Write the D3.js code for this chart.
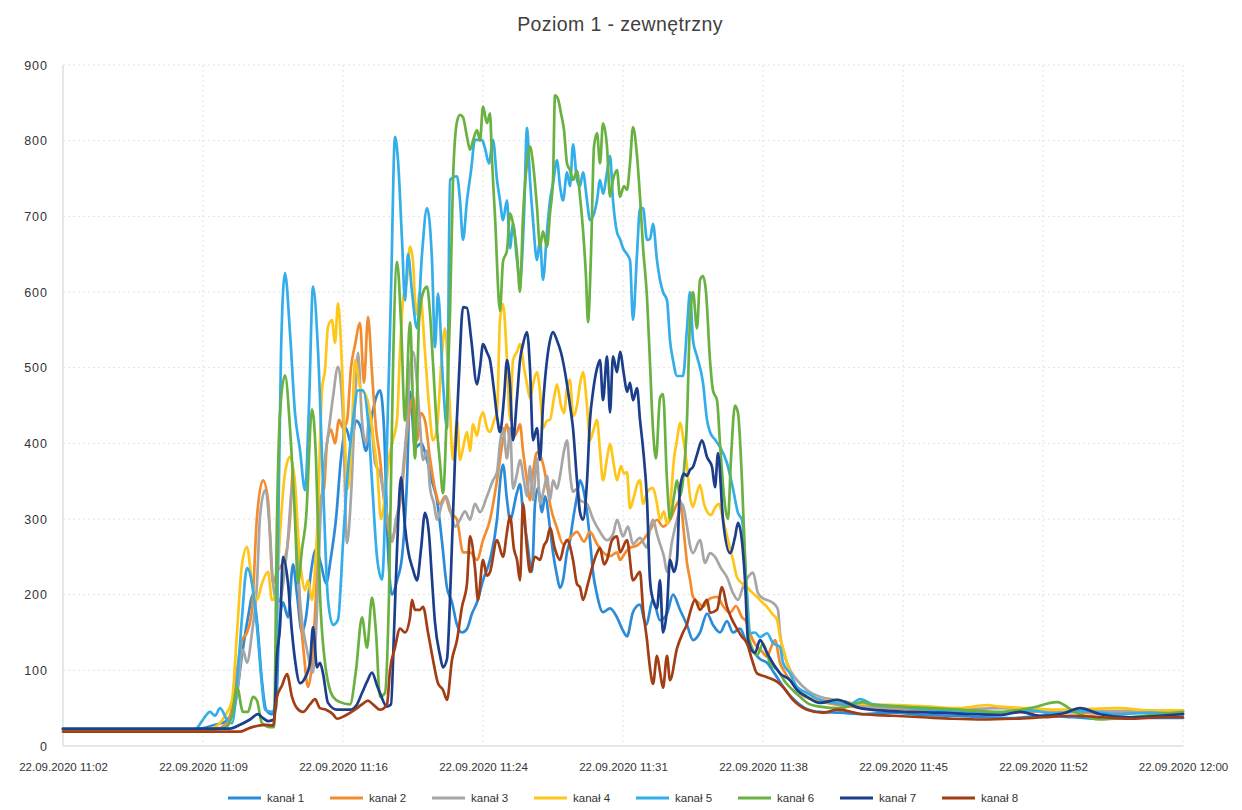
<!DOCTYPE html>
<html>
<head>
<meta charset="utf-8">
<script src="https://cdn.jsdelivr.net/npm/d3@7"></script>
<style>
  html, body { margin: 0; padding: 0; background: #ffffff; }
  svg { display: block; }
  text { font-family: "Liberation Sans", Arial, sans-serif; }
</style>
</head>
<body>
<svg id="chart" width="1242" height="810"></svg>
<script>
// ---------------- DATA ----------------
// x = sample number (logger samples, 140 samples between time labels), y = reading
const title = "Poziom 1 - zewnętrzny";
const tickLabels = ["22.09.2020 11:02","22.09.2020 11:09","22.09.2020 11:16","22.09.2020 11:24",
  "22.09.2020 11:31","22.09.2020 11:38","22.09.2020 11:45","22.09.2020 11:52","22.09.2020 12:00"];
const yTicks = [0,100,200,300,400,500,600,700,800,900];
const seriesNames = ["kanał 1","kanał 2","kanał 3","kanał 4","kanał 5","kanał 6","kanał 7","kanał 8"];

const kanal1 = [[0,22],[132,22],[142,24],[152,28],[162,32],[172,55],[179,120],[185,170],[190,200],[194,165],[199,85],[203,48],[209,42],[213,50],[216,150],[220,190],[225,170],[230,240],[234,200],[239,150],[243,170],[248,230],[253,260],[258,240],[263,215],[268,250],[273,300],[278,380],[283,420],[288,400],[293,430],[298,420],[303,390],[308,430],[313,460],[317,470],[321,420],[325,260],[329,200],[334,219],[339,250],[344,351],[347,468],[352,394],[358,400],[364,378],[369,350],[374,325],[379,270],[384,209],[389,190],[394,160],[399,150],[404,155],[409,175],[414,190],[420,219],[427,246],[434,299],[438,360],[440,372],[444,325],[447,299],[454,335],[457,346],[460,309],[464,272],[469,230],[472,320],[475,341],[479,309],[482,330],[487,288],[490,256],[494,225],[497,209],[500,219],[504,256],[507,272],[510,299],[514,330],[517,351],[520,341],[524,309],[527,272],[530,230],[534,200],[540,177],[547,182],[554,170],[559,155],[564,145],[570,177],[577,187],[583,160],[590,193],[597,166],[604,175],[610,200],[617,180],[624,160],[630,140],[637,150],[644,175],[650,160],[657,150],[664,165],[670,150],[677,155],[684,135],[690,125],[697,115],[704,110],[712,95],[722,75],[732,60],[742,50],[757,45],[777,44],[800,42],[830,44],[860,41],[890,40],[920,38],[950,37],[980,40],[1010,38],[1040,36],[1070,38],[1100,37],[1120,37]];

const kanal2 = [[0,22],[152,22],[162,28],[169,50],[174,100],[179,140],[184,150],[189,180],[194,303],[200,351],[205,325],[210,215],[214,230],[219,240],[224,260],[227,300],[230,365],[234,259],[237,180],[241,120],[245,78],[249,110],[253,200],[257,325],[261,340],[264,400],[268,418],[272,400],[276,431],[280,420],[284,430],[288,500],[292,530],[297,559],[301,480],[305,567],[309,493],[313,420],[317,380],[321,325],[325,290],[328,272],[334,299],[339,340],[343,400],[347,447],[350,462],[354,404],[358,440],[362,430],[367,380],[372,340],[377,320],[382,330],[387,310],[394,299],[400,256],[407,256],[414,246],[420,272],[427,299],[434,351],[440,404],[444,425],[447,404],[454,415],[457,425],[460,390],[464,351],[467,325],[470,360],[474,388],[480,373],[484,345],[487,320],[494,288],[500,267],[507,275],[514,283],[521,270],[527,283],[534,267],[540,256],[547,251],[554,256],[557,246],[562,255],[567,262],[574,265],[580,272],[587,285],[594,299],[600,290],[607,299],[614,320],[617,325],[621,280],[624,242],[627,220],[630,197],[635,190],[640,184],[647,195],[654,197],[660,185],[667,176],[673,185],[679,170],[683,165],[687,149],[694,131],[699,125],[704,118],[708,130],[712,140],[717,110],[722,97],[727,87],[732,78],[737,70],[750,61],[764,57],[787,52],[817,50],[857,48],[897,45],[937,44],[987,46],[1037,43],[1087,45],[1120,43]];

const kanal3 = [[0,22],[152,22],[162,26],[169,40],[174,70],[180,127],[184,110],[189,150],[194,215],[197,303],[202,338],[207,281],[210,215],[214,190],[217,193],[224,259],[230,348],[234,260],[237,193],[244,127],[250,97],[254,180],[257,289],[262,380],[266,420],[270,461],[275,501],[280,435],[284,268],[288,330],[292,450],[295,520],[299,430],[303,400],[307,440],[312,374],[317,360],[321,330],[325,300],[329,270],[333,300],[337,325],[341,380],[344,425],[347,499],[350,521],[354,480],[357,425],[360,378],[364,390],[367,341],[371,320],[374,299],[379,320],[383,330],[387,314],[392,290],[397,299],[402,310],[407,299],[412,320],[417,309],[424,330],[430,351],[434,362],[437,400],[440,420],[444,380],[447,420],[450,340],[454,360],[457,378],[461,350],[464,330],[467,370],[470,325],[474,380],[477,320],[481,340],[484,357],[487,325],[490,351],[494,340],[497,357],[501,390],[504,404],[507,360],[510,336],[514,340],[517,325],[524,320],[530,300],[537,283],[544,272],[550,280],[554,299],[560,277],[565,290],[570,267],[577,275],[584,262],[587,288],[590,299],[594,280],[597,267],[601,250],[604,230],[609,270],[614,299],[619,320],[624,290],[627,265],[630,255],[637,272],[642,242],[647,255],[652,250],[658,235],[664,223],[670,202],[675,193],[680,210],[685,223],[690,229],[695,202],[700,195],[704,193],[709,190],[713,185],[715,180],[717,149],[724,110],[734,87],[744,74],[757,65],[777,60],[807,52],[837,50],[887,48],[937,50],[987,47],[1037,46],[1087,47],[1120,46]];

const kanal4 = [[0,22],[142,22],[152,25],[162,40],[169,60],[174,150],[179,240],[184,263],[189,215],[194,193],[199,215],[205,230],[209,193],[213,200],[217,280],[221,350],[224,374],[227,382],[232,348],[235,281],[239,223],[242,206],[245,219],[249,193],[252,233],[255,312],[259,471],[262,497],[265,554],[269,563],[272,533],[275,585],[279,501],[282,400],[285,340],[289,420],[292,510],[295,490],[298,470],[302,466],[307,440],[311,400],[314,369],[318,300],[322,330],[326,380],[330,404],[334,431],[337,520],[340,589],[344,616],[347,660],[350,640],[353,570],[357,600],[362,520],[366,450],[370,404],[374,420],[378,500],[382,552],[386,470],[390,378],[394,431],[397,378],[401,400],[404,415],[407,390],[410,425],[414,410],[417,431],[420,441],[424,420],[427,415],[431,430],[434,441],[437,563],[440,584],[444,510],[447,431],[450,510],[454,521],[457,531],[461,500],[464,478],[467,460],[470,478],[474,494],[477,468],[480,420],[484,430],[487,431],[491,460],[494,478],[498,450],[501,440],[504,473],[507,484],[510,436],[514,450],[517,478],[520,494],[524,450],[527,404],[531,420],[534,431],[537,390],[540,351],[544,380],[547,399],[551,370],[554,351],[558,370],[561,360],[564,362],[567,314],[571,330],[574,345],[577,351],[580,320],[584,335],[587,340],[590,341],[594,320],[597,299],[601,310],[604,293],[608,330],[611,380],[614,404],[617,427],[621,400],[624,370],[627,330],[630,316],[634,335],[637,345],[641,320],[644,310],[648,305],[652,315],[656,320],[660,299],[665,272],[670,246],[674,223],[679,215],[684,210],[689,203],[694,197],[699,190],[704,184],[709,175],[714,167],[717,144],[721,125],[724,110],[727,97],[730,87],[734,78],[739,70],[747,63],[757,61],[777,58],[807,55],[837,54],[867,52],[897,50],[924,54],[937,52],[967,50],[997,48],[1027,49],[1057,50],[1087,47],[1120,47]];

const kanal5 = [[0,22],[132,22],[140,35],[147,45],[152,40],[157,50],[164,35],[169,30],[175,100],[179,170],[184,235],[189,215],[194,157],[199,80],[202,48],[209,45],[213,60],[215,260],[218,520],[222,625],[227,546],[232,440],[237,391],[242,338],[246,450],[250,607],[255,523],[260,348],[265,193],[270,160],[275,167],[280,268],[284,350],[290,430],[295,470],[300,470],[305,430],[309,350],[314,250],[319,220],[324,400],[328,600],[332,805],[335,774],[339,669],[342,589],[345,650],[349,600],[354,552],[359,650],[364,711],[369,642],[372,527],[375,598],[380,480],[384,420],[387,748],[394,753],[397,721],[400,669],[404,721],[408,760],[412,801],[419,801],[422,790],[426,770],[430,801],[434,748],[437,721],[440,695],[444,721],[447,658],[450,690],[454,642],[457,616],[461,700],[464,817],[467,748],[470,695],[474,642],[477,669],[480,616],[484,680],[487,721],[490,743],[494,774],[497,740],[500,721],[504,758],[507,740],[510,795],[514,748],[517,740],[520,758],[524,721],[527,695],[530,700],[534,721],[537,748],[540,730],[544,758],[547,780],[550,721],[554,679],[557,670],[560,658],[564,650],[567,642],[570,563],[574,650],[577,711],[580,711],[584,669],[587,670],[590,690],[594,642],[597,616],[600,600],[604,589],[607,536],[610,510],[614,489],[620,489],[624,552],[627,600],[630,536],[634,515],[640,480],[644,431],[647,415],[652,405],[657,395],[664,374],[670,340],[675,308],[679,299],[684,202],[687,149],[692,150],[697,144],[704,149],[710,136],[717,131],[720,110],[727,96],[734,78],[744,70],[757,61],[770,57],[787,55],[797,62],[810,55],[837,52],[867,48],[897,45],[937,44],[967,47],[990,43],[1017,46],[1057,42],[1087,44],[1120,42]];

const kanal6 = [[0,22],[137,22],[162,24],[169,40],[174,78],[180,45],[185,45],[190,65],[194,60],[199,30],[207,25],[211,25],[214,300],[217,440],[222,490],[227,420],[232,300],[235,215],[239,260],[243,300],[249,445],[253,380],[257,200],[262,110],[270,65],[277,58],[287,55],[293,100],[299,170],[304,130],[309,196],[313,150],[317,65],[322,70],[326,200],[330,500],[334,640],[338,560],[342,430],[347,560],[352,380],[356,560],[360,599],[364,607],[367,572],[370,506],[374,418],[377,374],[380,334],[384,450],[387,572],[390,748],[394,825],[397,834],[400,831],[404,805],[407,788],[410,800],[414,814],[417,800],[420,845],[424,823],[427,836],[429,774],[432,700],[437,575],[440,640],[444,655],[447,704],[450,691],[454,650],[457,600],[460,700],[464,770],[467,792],[470,770],[474,712],[477,660],[480,680],[484,660],[487,704],[490,748],[492,860],[495,855],[498,836],[501,814],[504,770],[507,761],[510,748],[514,760],[517,726],[520,682],[523,620],[525,560],[528,650],[531,792],[534,810],[537,770],[540,823],[544,792],[547,726],[550,748],[554,761],[557,726],[561,740],[564,735],[567,770],[570,818],[574,780],[577,726],[580,660],[584,593],[587,506],[590,418],[593,380],[597,460],[600,465],[604,351],[607,300],[611,330],[614,351],[617,330],[620,351],[624,431],[627,563],[630,600],[634,552],[637,616],[640,621],[643,600],[647,510],[650,470],[654,457],[657,400],[661,330],[665,300],[668,380],[672,450],[675,440],[679,350],[682,250],[685,150],[689,130],[694,120],[700,135],[707,110],[715,100],[722,85],[729,75],[737,65],[747,55],[757,52],[777,50],[800,58],[807,55],[837,52],[867,50],[897,48],[937,45],[967,50],[994,58],[1012,45],[1037,35],[1067,38],[1097,42],[1120,45]];

const kanal7 = [[0,23],[167,23],[177,28],[187,35],[195,42],[199,38],[205,33],[211,35],[214,120],[217,157],[220,250],[225,215],[229,150],[232,114],[237,83],[242,90],[247,110],[250,157],[254,104],[257,110],[260,96],[265,57],[274,48],[287,48],[294,55],[299,70],[304,85],[309,97],[314,80],[317,70],[324,52],[328,55],[331,150],[334,259],[338,355],[342,290],[345,259],[350,233],[354,219],[358,260],[362,308],[366,280],[369,220],[372,163],[377,120],[380,104],[384,115],[388,230],[392,380],[396,490],[400,580],[404,579],[408,540],[414,478],[417,500],[420,531],[424,520],[427,510],[431,470],[434,436],[437,415],[441,460],[444,510],[447,478],[450,404],[454,460],[457,510],[460,531],[464,547],[467,499],[470,404],[474,420],[477,378],[480,450],[484,510],[487,536],[490,547],[494,536],[498,520],[504,478],[507,450],[510,420],[514,351],[517,309],[520,299],[524,350],[527,431],[530,468],[534,499],[537,510],[540,457],[544,515],[547,441],[550,515],[554,494],[557,521],[561,490],[564,468],[567,480],[570,457],[574,473],[577,431],[580,394],[584,325],[587,219],[590,193],[594,182],[597,219],[600,150],[604,182],[607,246],[611,230],[614,246],[617,341],[621,360],[624,357],[627,365],[630,369],[634,385],[639,404],[644,382],[649,369],[652,342],[655,387],[660,299],[667,255],[672,276],[675,295],[679,270],[682,219],[685,140],[692,123],[697,140],[704,123],[712,105],[717,96],[727,87],[734,74],[744,65],[757,57],[774,61],[797,50],[817,47],[847,45],[877,44],[907,42],[937,41],[957,45],[977,40],[1000,43],[1017,50],[1037,42],[1067,38],[1097,40],[1120,42]];

const kanal8 = [[0,19],[177,19],[187,24],[202,28],[210,27],[214,65],[219,80],[224,95],[229,65],[234,50],[240,45],[247,55],[252,62],[257,50],[263,48],[270,42],[274,36],[282,40],[292,48],[299,55],[305,60],[310,55],[317,48],[324,55],[327,100],[332,130],[337,155],[342,150],[347,170],[349,193],[352,180],[357,180],[360,184],[365,150],[370,114],[375,83],[380,74],[384,61],[389,114],[394,140],[399,184],[404,215],[407,277],[412,235],[415,193],[420,246],[424,225],[427,230],[434,272],[440,250],[444,283],[447,304],[451,260],[454,246],[457,219],[460,320],[464,260],[467,230],[472,250],[477,246],[481,265],[484,272],[487,288],[492,260],[497,246],[501,265],[504,272],[510,246],[514,214],[517,210],[520,193],[525,215],[530,240],[534,255],[537,262],[541,240],[544,246],[549,272],[554,277],[557,256],[564,272],[570,219],[577,230],[580,182],[584,140],[587,103],[590,82],[594,119],[597,98],[600,77],[604,119],[607,87],[614,129],[620,150],[624,161],[627,176],[632,193],[637,180],[644,193],[647,176],[654,180],[659,210],[664,184],[669,167],[674,155],[679,144],[684,136],[689,114],[694,96],[704,91],[714,85],[720,78],[730,61],[744,48],[760,44],[774,48],[800,42],[830,40],[860,38],[890,36],[920,35],[950,36],[980,38],[1010,40],[1040,38],[1070,36],[1100,38],[1120,38]];

const seriesData = [kanal1, kanal2, kanal3, kanal4, kanal5, kanal6, kanal7, kanal8];
const seriesColors = ["#2b8bd8","#f28c2e","#a6a6a6","#ffc61a","#34aeea","#69b241","#1b3f8b","#a33d14"];

// ---------------- CHART ----------------
const svg = d3.select("#chart");
const W = 1242, H = 810;
const margin = {left: 63, right: 59, top: 65, bottom: 64};
const plotW = W - margin.left - margin.right;
const plotH = H - margin.top - margin.bottom;
const nSamples = 1120;
const labelStep = 140;

const x = d3.scaleLinear().domain([0, nSamples]).range([margin.left, margin.left + plotW]);
const y = d3.scaleLinear().domain([0, 900]).range([margin.top + plotH, margin.top]);

svg.append("rect").attr("width", W).attr("height", H).attr("fill", "#ffffff");

// title
svg.append("text")
  .attr("x", 620).attr("y", 31)
  .attr("text-anchor", "middle")
  .attr("font-size", 19.5)
  .attr("letter-spacing", 0.4)
  .attr("fill", "#404040")
  .text(title);

// horizontal gridlines
svg.append("g").selectAll("line").data(yTicks.filter(d => d > 0)).join("line")
  .attr("x1", margin.left).attr("x2", margin.left + plotW)
  .attr("y1", d => y(d)).attr("y2", d => y(d))
  .attr("stroke", "#e2e2e2").attr("stroke-width", 1).attr("stroke-dasharray", "2,3");

// vertical gridlines
const xTickVals = d3.range(0, nSamples + 1, labelStep);
svg.append("g").selectAll("line").data(xTickVals.filter(d => d > 0)).join("line")
  .attr("x1", d => x(d)).attr("x2", d => x(d))
  .attr("y1", margin.top).attr("y2", margin.top + plotH)
  .attr("stroke", "#e2e2e2").attr("stroke-width", 1).attr("stroke-dasharray", "2,3");

// axis lines
svg.append("line")
  .attr("x1", margin.left).attr("x2", margin.left)
  .attr("y1", margin.top).attr("y2", margin.top + plotH)
  .attr("stroke", "#cfcfcf").attr("stroke-width", 1);
svg.append("line")
  .attr("x1", margin.left).attr("x2", margin.left + plotW)
  .attr("y1", margin.top + plotH).attr("y2", margin.top + plotH)
  .attr("stroke", "#cfcfcf").attr("stroke-width", 1);

// y axis labels
const yAxis = d3.axisLeft(y).tickValues(yTicks).tickSize(0).tickPadding(15);
const gy = svg.append("g").attr("transform", `translate(${margin.left},0)`).call(yAxis);
gy.select(".domain").remove();
gy.selectAll("text").attr("font-size", 12.5).attr("letter-spacing", 1).attr("fill", "#333333")
  .attr("font-family", "'Liberation Sans', Arial, sans-serif");

// x axis labels
const xAxis = d3.axisBottom(x).tickValues(xTickVals).tickSize(0).tickPadding(17)
  .tickFormat((d, i) => tickLabels[i]);
const gx = svg.append("g").attr("transform", `translate(0,${margin.top + plotH})`).call(xAxis);
gx.select(".domain").remove();
gx.selectAll("text").attr("font-size", 11.5).attr("fill", "#333333")
  .attr("font-family", "'Liberation Sans', Arial, sans-serif");

// lines
const line = d3.line()
  .x(d => x(d[0]))
  .y(d => y(d[1]))
  .curve(d3.curveMonotoneX);

svg.append("g").selectAll("path").data(seriesData).join("path")
  .attr("d", d => line(d))
  .attr("fill", "none")
  .attr("stroke", (d, i) => seriesColors[i])
  .attr("stroke-width", 2.7)
  .attr("stroke-linejoin", "round")
  .attr("stroke-linecap", "round");

// legend
const legendX0 = 228, legendStep = 102, legendY = 798;
const lg = svg.append("g").selectAll("g").data(seriesNames).join("g")
  .attr("transform", (d, i) => `translate(${legendX0 + i * legendStep},${legendY})`);
lg.append("line")
  .attr("x1", 0).attr("x2", 33).attr("y1", 0).attr("y2", 0)
  .attr("stroke", (d, i) => seriesColors[i]).attr("stroke-width", 3);
lg.append("text")
  .attr("x", 39).attr("y", 4)
  .attr("font-size", 11.5).attr("fill", "#333333")
  .text(d => d);
</script>
</body>
</html>
